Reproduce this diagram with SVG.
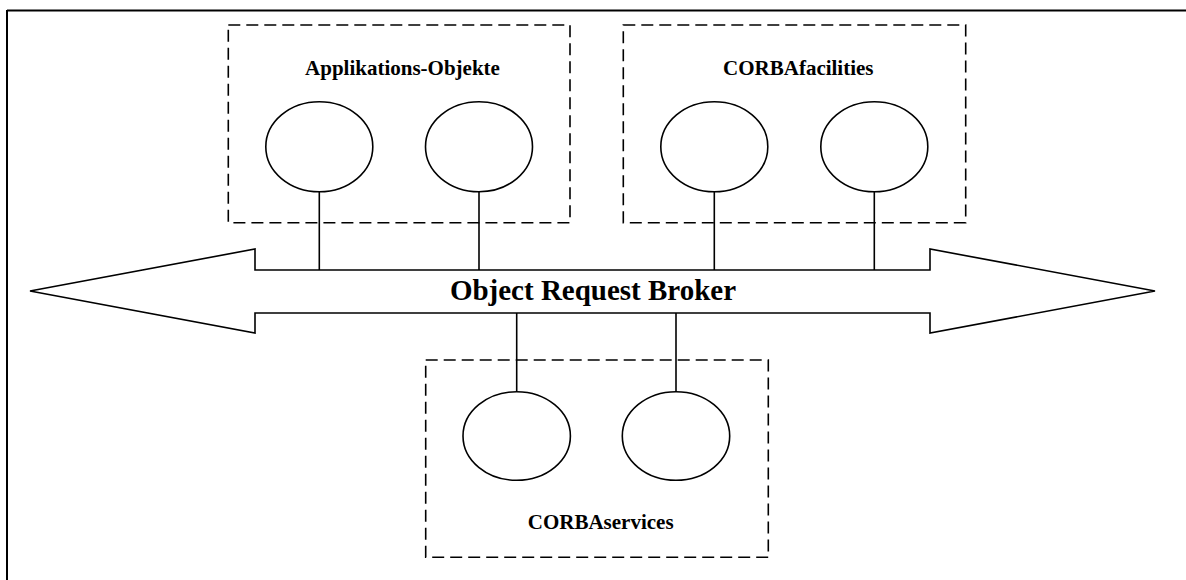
<svg xmlns="http://www.w3.org/2000/svg" width="1186" height="580" viewBox="0 0 1186 580">
<style>
.frame{stroke:#000;stroke-width:2;fill:none}
.grp{fill:none;stroke:#000;stroke-width:1.6;stroke-dasharray:12 6}
.obj{fill:#fff;stroke:#000;stroke-width:1.6}
.con{stroke:#000;stroke-width:1.6;fill:none}
.lbl{font-family:"Liberation Serif","Times New Roman",serif;font-weight:bold;font-size:21px;text-anchor:middle;fill:#000}
.orb{font-family:"Liberation Serif","Times New Roman",serif;font-weight:bold;font-size:29px;text-anchor:middle;fill:#000}
</style>
<rect width="1186" height="580" fill="#fff"/>
<g id="frame">
<line class="frame" x1="7" y1="10.5" x2="1186" y2="10.5"/>
<line class="frame" x1="7" y1="10" x2="7" y2="580"/>
</g>
<g id="connectors">
<line class="con" x1="319.3" y1="191.7" x2="319.3" y2="270"/>
<line class="con" x1="479" y1="191.7" x2="479" y2="270"/>
<line class="con" x1="714.3" y1="191.7" x2="714.3" y2="270"/>
<line class="con" x1="874.3" y1="191.7" x2="874.3" y2="270"/>
<line class="con" x1="516.7" y1="313" x2="516.7" y2="391.7"/>
<line class="con" x1="676" y1="313" x2="676" y2="391.7"/>
</g>
<g id="orb">
<polygon class="obj" points="30,291 255,249 255,270 930,270 930,249 1155,291 930,333 930,313 255,313 255,333"/>
<text class="orb" x="593" y="300">Object Request Broker</text>
</g>
<g id="applikations-objekte">
<rect class="grp" x="228.3" y="25" width="341.7" height="197.7"/>
<text class="lbl" x="402.5" y="74.5">Applikations-Objekte</text>
<ellipse id="app-obj-1" class="obj" cx="319.3" cy="146.7" rx="53.5" ry="45"/>
<ellipse id="app-obj-2" class="obj" cx="479" cy="146.7" rx="53.5" ry="45"/>
</g>
<g id="corbafacilities">
<rect class="grp" x="623.3" y="25" width="342.4" height="197.7"/>
<text class="lbl" x="798.3" y="74.5">CORBAfacilities</text>
<ellipse id="fac-obj-1" class="obj" cx="714.3" cy="146.7" rx="53.5" ry="45"/>
<ellipse id="fac-obj-2" class="obj" cx="874.3" cy="146.7" rx="53.5" ry="45"/>
</g>
<g id="corbaservices">
<rect class="grp" x="425.7" y="360" width="342.6" height="197.3"/>
<text class="lbl" x="600.7" y="529.3">CORBAservices</text>
<ellipse id="svc-obj-1" class="obj" cx="516.7" cy="436" rx="53.7" ry="44.3"/>
<ellipse id="svc-obj-2" class="obj" cx="676" cy="436" rx="53.7" ry="44.3"/>
</g>
</svg>
